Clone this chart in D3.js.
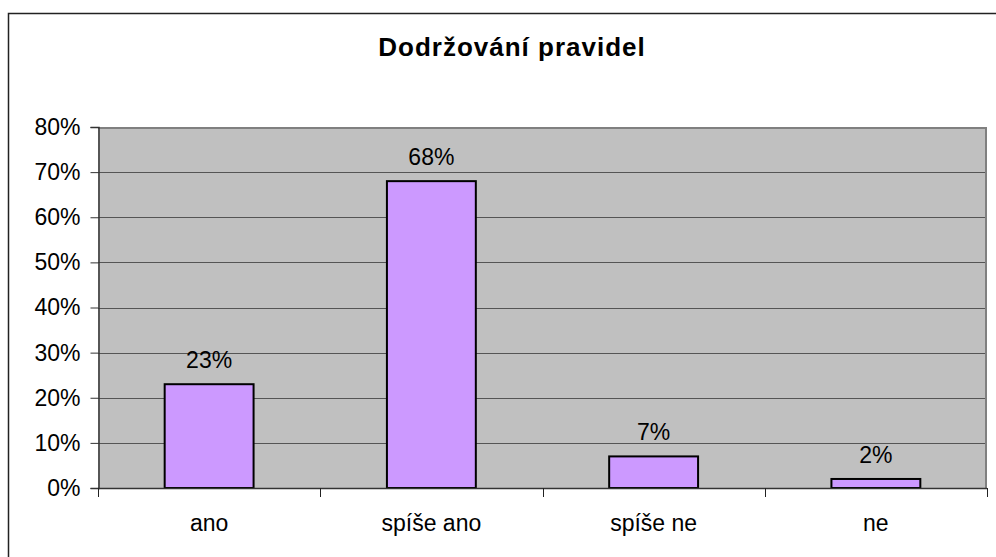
<!DOCTYPE html>
<html>
<head>
<meta charset="utf-8">
<script src="https://cdn.jsdelivr.net/npm/d3@7"></script>
<style>
  body { margin: 0; background: #fff; }
  svg { display: block; font-family: "Liberation Sans", Arial, sans-serif; }
</style>
</head>
<body>
<svg id="chart" width="996" height="557"></svg>
<script>
var title = "Dodržování pravidel";
var categories = ["ano", "spíše ano", "spíše ne", "ne"];
var values = [0.23, 0.68, 0.07, 0.02];
var yTicks = [0, 0.1, 0.2, 0.3, 0.4, 0.5, 0.6, 0.7, 0.8];

var svg = d3.select("#chart");
var plot = {left: 98, top: 127, right: 987, bottom: 488};

// outer chart border (runs off the right and bottom edge)
svg.append("rect")
    .attr("x", 8.5).attr("y", 13.5)
    .attr("width", 1010).attr("height", 570)
    .attr("fill", "#fff")
    .attr("stroke", "#222").attr("stroke-width", 1.5);

svg.append("text")
    .attr("x", 512).attr("y", 56)
    .attr("text-anchor", "middle")
    .attr("font-size", 26).attr("font-weight", "bold")
    .attr("letter-spacing", 1)
    .attr("fill", "#000")
    .text(title);

var x = d3.scaleBand()
    .domain(categories)
    .range([plot.left, plot.right])
    .paddingInner(0.6).paddingOuter(0.3);

var xb = d3.scaleBand()
    .domain(categories)
    .range([plot.left, plot.right]);

var y = d3.scaleLinear()
    .domain([0, 0.8])
    .range([plot.bottom, plot.top]);

// plot background
svg.append("rect")
    .attr("x", plot.left).attr("y", plot.top)
    .attr("width", plot.right - plot.left)
    .attr("height", plot.bottom - plot.top)
    .attr("fill", "#c0c0c0");

// gridlines
svg.append("g")
    .selectAll("line")
    .data(yTicks.slice(1, -1))
    .join("line")
    .attr("x1", plot.left).attr("x2", plot.right)
    .attr("y1", function(d) { return Math.round(y(d)) + 0.5; })
    .attr("y2", function(d) { return Math.round(y(d)) + 0.5; })
    .attr("stroke", "#555").attr("stroke-width", 1);

// top and right plot border
svg.append("path")
    .attr("d", "M" + plot.left + "," + (plot.top + 1) + "H" + (plot.right - 1) + "V" + plot.bottom)
    .attr("fill", "none")
    .attr("stroke", "#808080").attr("stroke-width", 2);

// bars
svg.append("g")
    .selectAll("rect")
    .data(values)
    .join("rect")
    .attr("x", function(d, i) { return x(categories[i]); })
    .attr("y", function(d) { return y(d); })
    .attr("width", x.bandwidth())
    .attr("height", function(d) { return plot.bottom - y(d); })
    .attr("fill", "#cc99ff")
    .attr("stroke", "#000").attr("stroke-width", 2);

// value labels
svg.append("g")
    .selectAll("text")
    .data(values)
    .join("text")
    .attr("x", function(d, i) { return x(categories[i]) + x.bandwidth() / 2; })
    .attr("y", function(d) { return y(d) - 16; })
    .attr("text-anchor", "middle")
    .attr("font-size", 23)
    .attr("fill", "#000")
    .text(function(d) { return Math.round(d * 100) + "%"; });

// y axis
var yAxis = svg.append("g")
    .attr("transform", "translate(" + (plot.left + 0.5) + ",0)")
    .call(d3.axisLeft(y).tickValues(yTicks).tickFormat(d3.format(".0%")).tickSize(8).tickPadding(10));
yAxis.select(".domain").attr("stroke", "#333").attr("stroke-width", 1.5);
yAxis.selectAll(".tick line").attr("stroke", "#333");
yAxis.selectAll(".tick text").attr("font-size", 23).attr("fill", "#000")
    .attr("font-family", "Liberation Sans, Arial, sans-serif");

// x axis line and boundary ticks
svg.append("line")
    .attr("x1", plot.left).attr("x2", plot.right)
    .attr("y1", plot.bottom + 0.5).attr("y2", plot.bottom + 0.5)
    .attr("stroke", "#333").attr("stroke-width", 1.5);

var bounds = categories.map(function(c) { return xb(c); }).concat([plot.right]);
svg.append("g")
    .selectAll("line")
    .data(bounds)
    .join("line")
    .attr("x1", function(d) { return Math.round(d) + 0.5; })
    .attr("x2", function(d) { return Math.round(d) + 0.5; })
    .attr("y1", plot.bottom).attr("y2", plot.bottom + 9)
    .attr("stroke", "#222");

svg.append("g")
    .selectAll("text")
    .data(categories)
    .join("text")
    .attr("x", function(d) { return xb(d) + xb.bandwidth() / 2; })
    .attr("y", 531)
    .attr("text-anchor", "middle")
    .attr("font-size", 23)
    .attr("fill", "#000")
    .text(function(d) { return d; });
</script>
</body>
</html>
